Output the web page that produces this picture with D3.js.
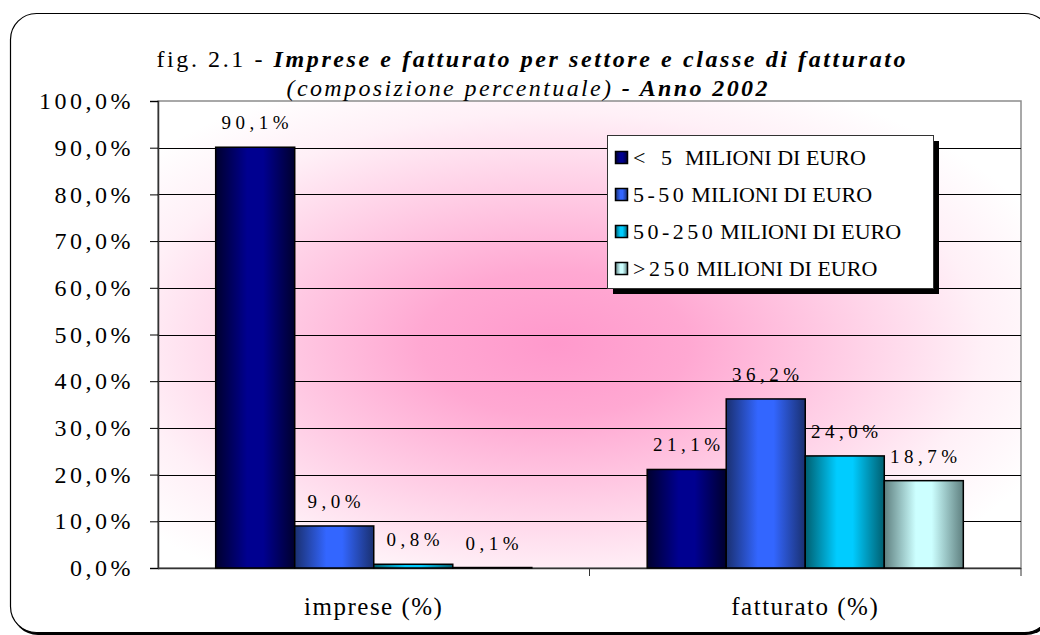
<!DOCTYPE html>
<html>
<head>
<meta charset="utf-8">
<script src="https://cdn.jsdelivr.net/npm/d3@7"></script>
<style>
  body { margin: 0; background: #fff; }
  text { font-family: "Liberation Serif", "Times New Roman", serif; }
</style>
</head>
<body>
<script>
var categories = ["imprese (%)", "fatturato (%)"];
var seriesRanges = ["< 5", "5-50", "50-250", ">250"];
var seriesUnit = "MILIONI DI EURO";
var impreseValues = [90.1, 9.0, 0.8, 0.1];
var fatturatoValues = [21.1, 36.2, 24.0, 18.7];
var yTicks = [0, 10, 20, 30, 40, 50, 60, 70, 80, 90, 100];

var series = seriesRanges.map(r => r + " " + seriesUnit);

var seriesColors = [
    {edge: "#00002e", mid: "#000090"},
    {edge: "#1a3070", mid: "#3366ff"},
    {edge: "#005f70", mid: "#00ccff"},
    {edge: "#5f8080", mid: "#ccffff"}
];

var width = 1040, height = 635;
var margin = {top: 101, right: 19, bottom: 67, left: 158};
var plotW = width - margin.left - margin.right;
var plotH = height - margin.top - margin.bottom;

var data = categories.map((c, i) => ({
    category: c,
    values: (i === 0 ? impreseValues : fatturatoValues).map((v, j) => ({series: series[j], value: v, idx: j}))
}));

var locale = d3.formatLocale({decimal: ",", thousands: ".", grouping: [3], currency: ["€", ""]});
var fmt = locale.format(".1f");

var svg = d3.select("body").append("svg")
    .attr("width", width)
    .attr("height", height);

var defs = svg.append("defs");

var bg = defs.append("radialGradient")
    .attr("id", "bg")
    .attr("cx", 0.46).attr("cy", 0.52).attr("r", 0.62);
bg.append("stop").attr("offset", 0).attr("stop-color", "#ff99cc");
bg.append("stop").attr("offset", 0.25).attr("stop-color", "#ffa8d2");
bg.append("stop").attr("offset", 0.8).attr("stop-color", "#fff0f7");
bg.append("stop").attr("offset", 1).attr("stop-color", "#ffffff");

seriesColors.forEach((c, i) => {
    var g = defs.append("linearGradient")
        .attr("id", "bar" + i)
        .attr("x1", 0).attr("x2", 1).attr("y1", 0).attr("y2", 0);
    g.append("stop").attr("offset", 0).attr("stop-color", c.edge);
    g.append("stop").attr("offset", 0.4).attr("stop-color", c.mid);
    g.append("stop").attr("offset", 0.6).attr("stop-color", c.mid);
    g.append("stop").attr("offset", 1).attr("stop-color", c.edge);
});

// outer frame
svg.append("rect")
    .attr("x", 12).attr("y", 15)
    .attr("width", 1040).attr("height", 620)
    .attr("rx", 26)
    .attr("fill", "#000");
svg.append("rect")
    .attr("x", 10.5).attr("y", 13.5)
    .attr("width", 1040).attr("height", 619)
    .attr("rx", 26)
    .attr("fill", "#fff")
    .attr("stroke", "#000")
    .attr("stroke-width", 1.2);

var chart = svg.append("g")
    .attr("transform", "translate(" + margin.left + "," + margin.top + ")");

var x0 = d3.scaleBand()
    .domain(categories)
    .range([0, plotW]);

var x1 = d3.scaleBand()
    .domain(series)
    .range([0, x0.bandwidth()])
    .paddingOuter(0.73);

var y = d3.scaleLinear()
    .domain([0, 100])
    .range([plotH, 0]);

chart.append("rect")
    .attr("width", plotW)
    .attr("height", plotH)
    .attr("fill", "url(#bg)")
    .attr("stroke", "#8c8c8c")
    .attr("stroke-width", 1.5);

// gridlines
chart.selectAll(".grid")
    .data(yTicks.slice(1, -1))
    .enter().append("line")
    .attr("x1", 0).attr("x2", plotW)
    .attr("y1", d => Math.round(y(d)) + 0.5)
    .attr("y2", d => Math.round(y(d)) + 0.5)
    .attr("stroke", "#000")
    .attr("stroke-width", 1);

var yAxis = d3.axisLeft(y)
    .tickValues(yTicks)
    .tickSize(8)
    .tickPadding(16)
    .tickFormat(d => fmt(d) + "%");

var yG = chart.append("g").call(yAxis);
yG.select(".domain").attr("stroke", "#333").attr("stroke-width", 1.5);
yG.selectAll("text")
    .attr("font-size", "24px")
    .attr("letter-spacing", "3.5px")
    .attr("fill", "#000")
    .style("font-family", "\"Liberation Serif\", serif");

var xG = chart.append("g")
    .attr("transform", "translate(0," + plotH + ")");
xG.append("line")
    .attr("x1", 0).attr("x2", plotW)
    .attr("y1", 0.5).attr("y2", 0.5)
    .attr("stroke", "#333").attr("stroke-width", 1.5);
xG.selectAll(".sep")
    .data(categories.slice(1).concat(["end"]))
    .enter().append("line")
    .attr("x1", d => d === "end" ? plotW : x0(d))
    .attr("x2", d => d === "end" ? plotW : x0(d))
    .attr("y1", 0).attr("y2", 8)
    .attr("stroke", "#333");
xG.selectAll(".cat")
    .data(categories)
    .enter().append("text")
    .attr("x", d => x0(d) + x0.bandwidth() / 2)
    .attr("y", 47)
    .attr("text-anchor", "middle")
    .attr("font-size", "25px")
    .attr("letter-spacing", "1.5px")
    .text(d => d);

var groups = chart.selectAll(".group")
    .data(data)
    .enter().append("g")
    .attr("transform", d => "translate(" + x0(d.category) + ",0)");

groups.selectAll("rect")
    .data(d => d.values)
    .enter().append("rect")
    .attr("x", d => x1(d.series))
    .attr("y", d => y(d.value))
    .attr("width", x1.bandwidth())
    .attr("height", d => plotH - y(d.value))
    .attr("fill", d => "url(#bar" + d.idx + ")")
    .attr("stroke", "#000")
    .attr("stroke-width", 1.5);

groups.selectAll(".lbl")
    .data(d => d.values)
    .enter().append("text")
    .attr("x", d => x1(d.series) + x1.bandwidth() / 2 + 2)
    .attr("y", d => y(d.value) - 18)
    .attr("text-anchor", "middle")
    .attr("font-size", "19px")
    .attr("letter-spacing", "4.5px")
    .text(d => fmt(d.value) + "%");

// legend
var legend = svg.append("g")
    .attr("transform", "translate(607,135)");

legend.append("rect")
    .attr("x", 6).attr("y", 6)
    .attr("width", 326).attr("height", 153)
    .attr("fill", "#000");
legend.append("rect")
    .attr("x", 0.5).attr("y", 0.5)
    .attr("width", 326).attr("height", 153)
    .attr("fill", "#fff")
    .attr("stroke", "#333");

seriesRanges.forEach((r, i) => {
    legend.append("rect")
        .attr("x", 8.5).attr("y", 16.5 + i * 37)
        .attr("width", 12).attr("height", 12)
        .attr("fill", "url(#bar" + i + ")")
        .attr("stroke", "#000")
        .attr("stroke-width", 1.5);
    var t = legend.append("text")
        .attr("x", 26)
        .attr("y", 30 + i * 37)
        .attr("font-size", "22px");
    t.append("tspan").attr("letter-spacing", i === 0 ? "5px" : "3.5px").text(r);
    t.append("tspan").attr("dx", i === 0 ? 8 : 4).text(seriesUnit);
});

// title
var t1 = svg.append("text")
    .attr("x", 531).attr("y", 67)
    .attr("text-anchor", "middle")
    .attr("font-size", "24px")
    .attr("textLength", 749)
    .attr("lengthAdjust", "spacing");
t1.append("tspan").text("fig. 2.1 - ");
t1.append("tspan").attr("font-weight", "bold").attr("font-style", "italic")
    .text("Imprese e fatturato per settore e classe di fatturato");

var t2 = svg.append("text")
    .attr("x", 527).attr("y", 96)
    .attr("text-anchor", "middle")
    .attr("font-size", "24px")
    .attr("textLength", 481)
    .attr("lengthAdjust", "spacing");
t2.append("tspan").attr("font-style", "italic").text("(composizione percentuale) ");
t2.append("tspan").attr("font-weight", "bold").attr("font-style", "italic").text("- Anno 2002");
</script>
</body>
</html>
